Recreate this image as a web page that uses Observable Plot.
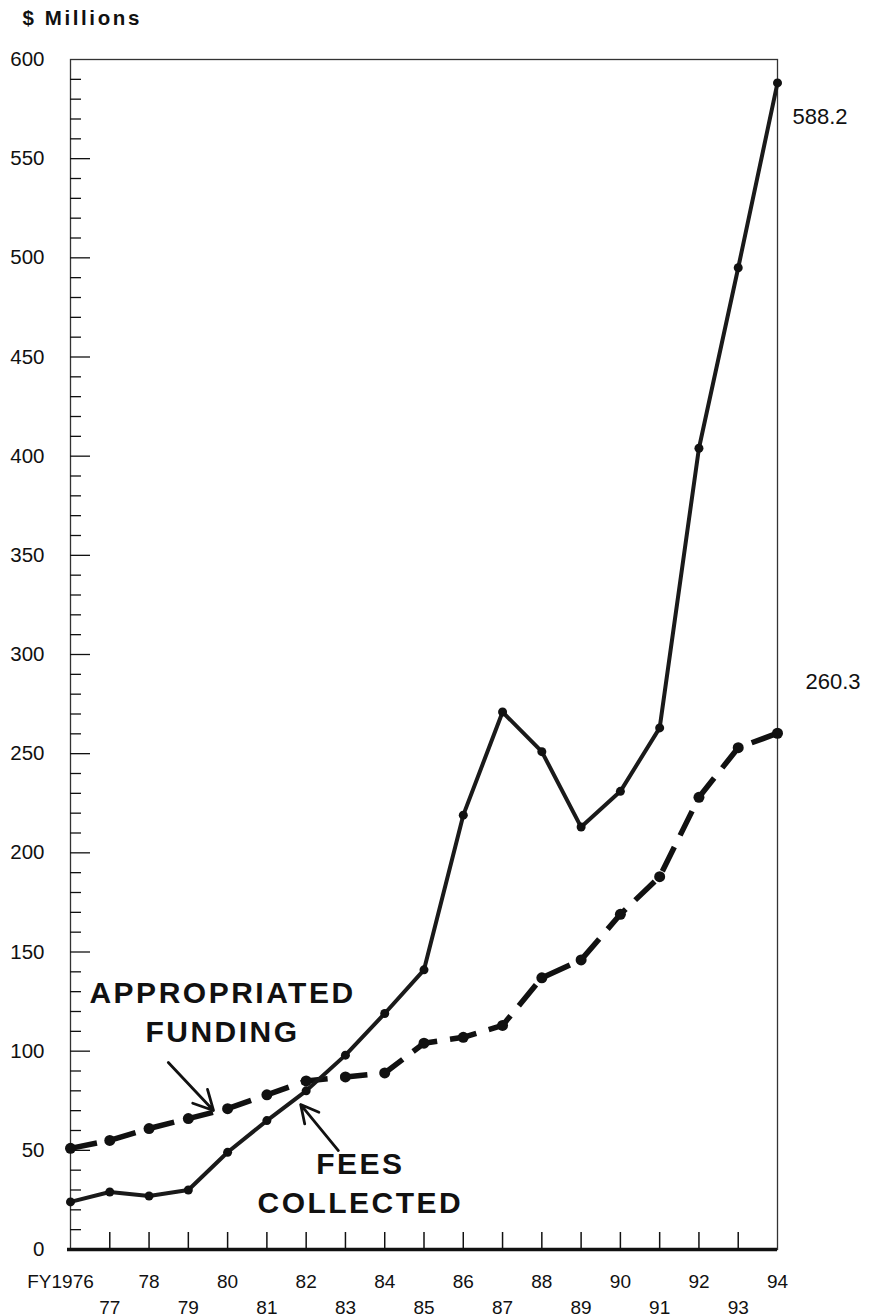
<!DOCTYPE html>
<html>
<head>
<meta charset="utf-8">
<script src="https://cdn.jsdelivr.net/npm/d3@7"></script>
<script src="https://cdn.jsdelivr.net/npm/@observablehq/plot@0.6"></script>
<style>
  html, body { margin: 0; padding: 0; background: #fff; }
  [font-size="30"], [font-size="30"] text { letter-spacing: 2.5px; }
  [font-size="20.5"], [font-size="20.5"] text { letter-spacing: 2.6px; }
</style>
</head>
<body>
<div id="chart"></div>
<script>
// ---- data ----
const years = [1976, 1977, 1978, 1979, 1980, 1981, 1982, 1983, 1984, 1985,
               1986, 1987, 1988, 1989, 1990, 1991, 1992, 1993, 1994];
const feesCollected = [24, 29, 27, 30, 49, 65, 80, 98, 119, 141,
                       219, 271, 251, 213, 231, 263, 404, 495, 588.2];
const appropriatedFunding = [51, 55, 61, 66, 71, 78, 85, 87, 89, 104,
                             107, 113, 137, 146, 169, 188, 228, 253, 260.3];

const yTicks = [0, 50, 100, 150, 200, 250, 300, 350, 400, 450, 500, 550, 600];
const topYearTicks = [1978, 1980, 1982, 1984, 1986, 1988, 1990, 1992, 1994];
const topYearLabels = ["78", "80", "82", "84", "86", "88", "90", "92", "94"];
const firstYearLabel = "FY1976";
const bottomYearTicks = [1977, 1979, 1981, 1983, 1985, 1987, 1989, 1991, 1993];
const bottomYearLabels = ["77", "79", "81", "83", "85", "87", "89", "91", "93"];
const endLabels = [
  {series: "fees", year: 1994, value: 588.2},
  {series: "approp", year: 1994, value: 260.3}
];
const annotationTexts = [
  {text: "APPROPRIATED\nFUNDING", year: 1979.87, value: 104.4},
  {text: "FEES\nCOLLECTED", year: 1983.38, value: 18.2}
];
const annotationArrows = [
  {x1: 1978.49, y1: 94.3, x2: 1979.64, y2: 70.1},
  {x1: 1982.82, y1: 49.9, x2: 1981.86, y2: 73.1}
];

// ---- tables ----
const fees = years.map((year, i) => ({year, value: feesCollected[i]}));
const approp = years.map((year, i) => ({year, value: appropriatedFunding[i]}));
const topLabels = topYearTicks.map((year, i) => ({year, label: topYearLabels[i]}));
const bottomLabels = bottomYearTicks.map((year, i) => ({year, label: bottomYearLabels[i]}));
const innerYears = years.slice(1, -1);
const minorY = d3.range(10, 600, 10).filter(v => v % 50 !== 0);
const majorY = yTicks.filter(v => v > 0 && v < 600);

// ---- layout ----
const W = 880, H = 1316;
const mL = 70, mR = 103, mT = 59, mB = 67;
const fw = W - mL - mR, fh = H - mT - mB;
const ink = "#111";
const font = "'Liberation Sans', Arial, Helvetica, sans-serif";

const chart = Plot.plot({
  width: W, height: H,
  marginLeft: mL, marginRight: mR, marginTop: mT, marginBottom: mB,
  style: {fontFamily: font, fontSize: "20.5px", color: ink, background: "#fff", overflow: "visible"},
  x: {domain: [1976, 1994], axis: null},
  y: {domain: [0, 600], ticks: yTicks, tickSize: 0, tickPadding: 26, label: null, tickFormat: d => String(d)},
  marks: [
    Plot.frame({stroke: "#333", strokeWidth: 1.3}),
    Plot.ruleY(minorY, {y: d => d, insetRight: fw - 11, stroke: ink, strokeWidth: 1.3}),
    Plot.ruleY(majorY, {y: d => d, insetRight: fw - 20, stroke: ink, strokeWidth: 1.3}),
    Plot.ruleX(innerYears, {x: d => d, insetTop: fh - 17, stroke: ink, strokeWidth: 1.5}),
    Plot.ruleY([0], {stroke: ink, strokeWidth: 3.5, insetLeft: -3}),

    // Appropriated funding: thick dashed line with dots
    Plot.line(approp, {x: "year", y: "value", stroke: ink, strokeWidth: 5.5,
      strokeDasharray: "27,13", strokeLinecap: "butt", strokeLinejoin: "round"}),
    Plot.dot(approp, {x: "year", y: "value", r: 5.5, fill: ink}),

    // Fees collected: solid line with dots
    Plot.line(fees, {x: "year", y: "value", stroke: "#1a1a1a", strokeWidth: 4, strokeLinejoin: "round"}),
    Plot.dot(fees, {x: "year", y: "value", r: 4.5, fill: ink}),

    // annotations
    Plot.arrow(annotationArrows, {x1: "x1", y1: "y1", x2: "x2", y2: "y2",
      stroke: ink, strokeWidth: 2.8, headLength: 20, headAngle: 55}),
    Plot.text(annotationTexts, {x: "year", y: "value", text: "text", fontSize: 30,
      fontWeight: "bold", lineAnchor: "bottom", lineHeight: 1.3, fill: ink}),

    // end value labels
    Plot.text(endLabels.filter(d => d.series === "fees"), {x: "year", y: "value",
      text: d => d.value.toFixed(1), textAnchor: "start", dx: 15, dy: 34, fontSize: 22, fill: ink}),
    Plot.text(endLabels.filter(d => d.series === "approp"), {x: "year", y: "value",
      text: d => d.value.toFixed(1), textAnchor: "start", dx: 28, dy: -51, fontSize: 22, fill: ink}),

    // x tick labels (two staggered rows)
    Plot.text([firstYearLabel], {x: () => 1976, text: d => d, frameAnchor: "bottom",
      lineAnchor: "bottom", dy: 38, dx: -10, fontSize: 19, fill: ink}),
    Plot.text(topLabels, {x: "year", text: "label", frameAnchor: "bottom",
      lineAnchor: "bottom", dy: 38, fontSize: 19, fill: ink}),
    Plot.text(bottomLabels, {x: "year", text: "label", frameAnchor: "bottom",
      lineAnchor: "bottom", dy: 64, fontSize: 19, fill: ink}),

    // unit title
    Plot.text(["$ Millions"], {text: d => d, frameAnchor: "top-left", textAnchor: "start",
      lineAnchor: "bottom", dx: -48, dy: -35, fontSize: 20.5, fontWeight: "bold", fill: ink})
  ]
});
document.getElementById("chart").appendChild(chart);
</script>
</body>
</html>
